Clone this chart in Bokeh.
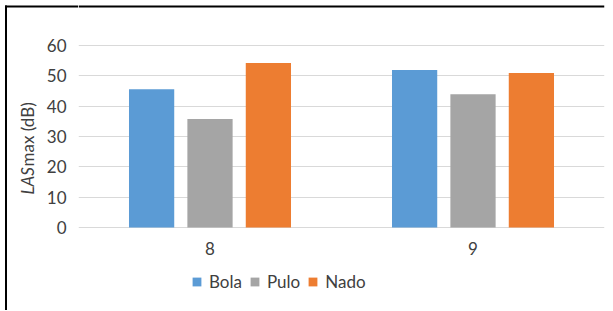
import math
from bokeh.plotting import figure
from bokeh.layouts import row
from bokeh.models import (ColumnDataSource, FactorRange, Range1d, Legend, LegendItem, Span,
                          Grid, FixedTicker)
from bokeh.core.properties import value
from bokeh.transform import dodge
from bokeh.embed import file_html
from bokeh.resources import INLINE

categories = ["8", "9"]
series = ["Bola", "Pulo", "Nado"]
bola = [45.6, 51.9]
pulo = [35.8, 43.9]
nado = [54.2, 50.9]
colors = ["#5B9BD5", "#A5A5A5", "#ED7D31"]
y_ticks = [0, 10, 20, 30, 40, 50, 60]
y_tick_labels = [str(v) for v in y_ticks]
y_title_parts = ["LAS", "max (dB)"]

FONT = "Lato"
FS = "17px"
TXT = "#404040"
H = 310          # figure height (px)
W = 605          # total width (px)
LW = 78          # width of the left figure (title + tick labels)
TOP_PX = 45      # pixel row of the 60 gridline
ZERO_PX = 227    # pixel row of the 0 line
ppu = (ZERO_PX - TOP_PX) / 60.0
y_range = Range1d(-(H - ZERO_PX) / ppu, 60 + TOP_PX / ppu)   # shared by both figures


def px_to_y(px):
    return (ZERO_PX - px) / ppu


def drop_default_grids(fig):
    for r in list(fig.center):
        if isinstance(r, Grid):
            r.visible = False


# ---- left figure: y-axis title, tick labels and left/top border ----
t = figure(width=LW, height=H, x_range=Range1d(0, LW), y_range=y_range,
           output_backend="svg", toolbar_location=None,
           x_axis_location=None, y_axis_location=None, min_border=0)
t.outline_line_color = None
drop_default_grids(t)
t.text(x=[27], y=[px_to_y(194)], text=[y_title_parts[0]], angle=math.pi / 2, text_align="left",
       text_baseline="middle", text_font=value(FONT), text_font_style="italic",
       text_font_size=FS, text_color=TXT)
t.text(x=[27], y=[px_to_y(166)], text=[y_title_parts[1]], angle=math.pi / 2, text_align="left",
       text_baseline="middle", text_font=value(FONT),
       text_font_size=FS, text_color=TXT)
t.text(x=[66] * len(y_ticks), y=y_ticks, text=y_tick_labels, text_align="right",
       text_baseline="middle", text_font=value(FONT), text_font_size=FS, text_color=TXT)
t.line(x=[5.5, 5.5], y=[y_range.start, px_to_y(5)], line_color="black", line_width=2)
t.line(x=[4.5, LW], y=[px_to_y(6), px_to_y(6)], line_color="black", line_width=2)

# ---- main bar chart ----
src = ColumnDataSource(data=dict(cat=categories, Bola=bola, Pulo=pulo, Nado=nado))

p = figure(x_range=FactorRange(*categories, range_padding=0), y_range=y_range,
           width=W - LW, height=H, output_backend="svg", toolbar_location=None,
           x_axis_location=None, y_axis_location=None,
           min_border_left=0, min_border_right=1, min_border_top=0, min_border_bottom=0)
p.outline_line_color = None
drop_default_grids(p)
p.add_layout(Grid(dimension=1, ticker=FixedTicker(ticks=y_ticks),
                  grid_line_color="#D9D9D9", grid_line_width=1))

offsets = [-0.222, 0.0, 0.222]
renderers = []
for name, off, col in zip(series, offsets, colors):
    r = p.vbar(x=dodge("cat", off, range=p.x_range), top=name, width=0.172, source=src,
               fill_color=col, line_color=None)
    renderers.append(r)

# category labels under the 0 line
p.text(x=categories, y=[px_to_y(248)] * len(categories), text=categories,
       text_align="center", text_baseline="middle", text_font=value(FONT),
       text_font_size=FS, text_color=TXT)

# top border of the chart box
p.add_layout(Span(location=px_to_y(6), dimension="width", line_color="black", line_width=2))

legend = Legend(items=[LegendItem(label=n, renderers=[r]) for n, r in zip(series, renderers)],
                orientation="horizontal", location=(113, H - 292), padding=0, margin=0,
                spacing=7, label_standoff=7, glyph_width=11, glyph_height=11, label_height=19,
                label_text_font=FONT, label_text_font_size=FS, label_text_color=TXT,
                border_line_color=None, background_fill_alpha=0)
p.add_layout(legend)

layout = row(t, p)
open("out.html", "w").write(file_html(layout, INLINE))
